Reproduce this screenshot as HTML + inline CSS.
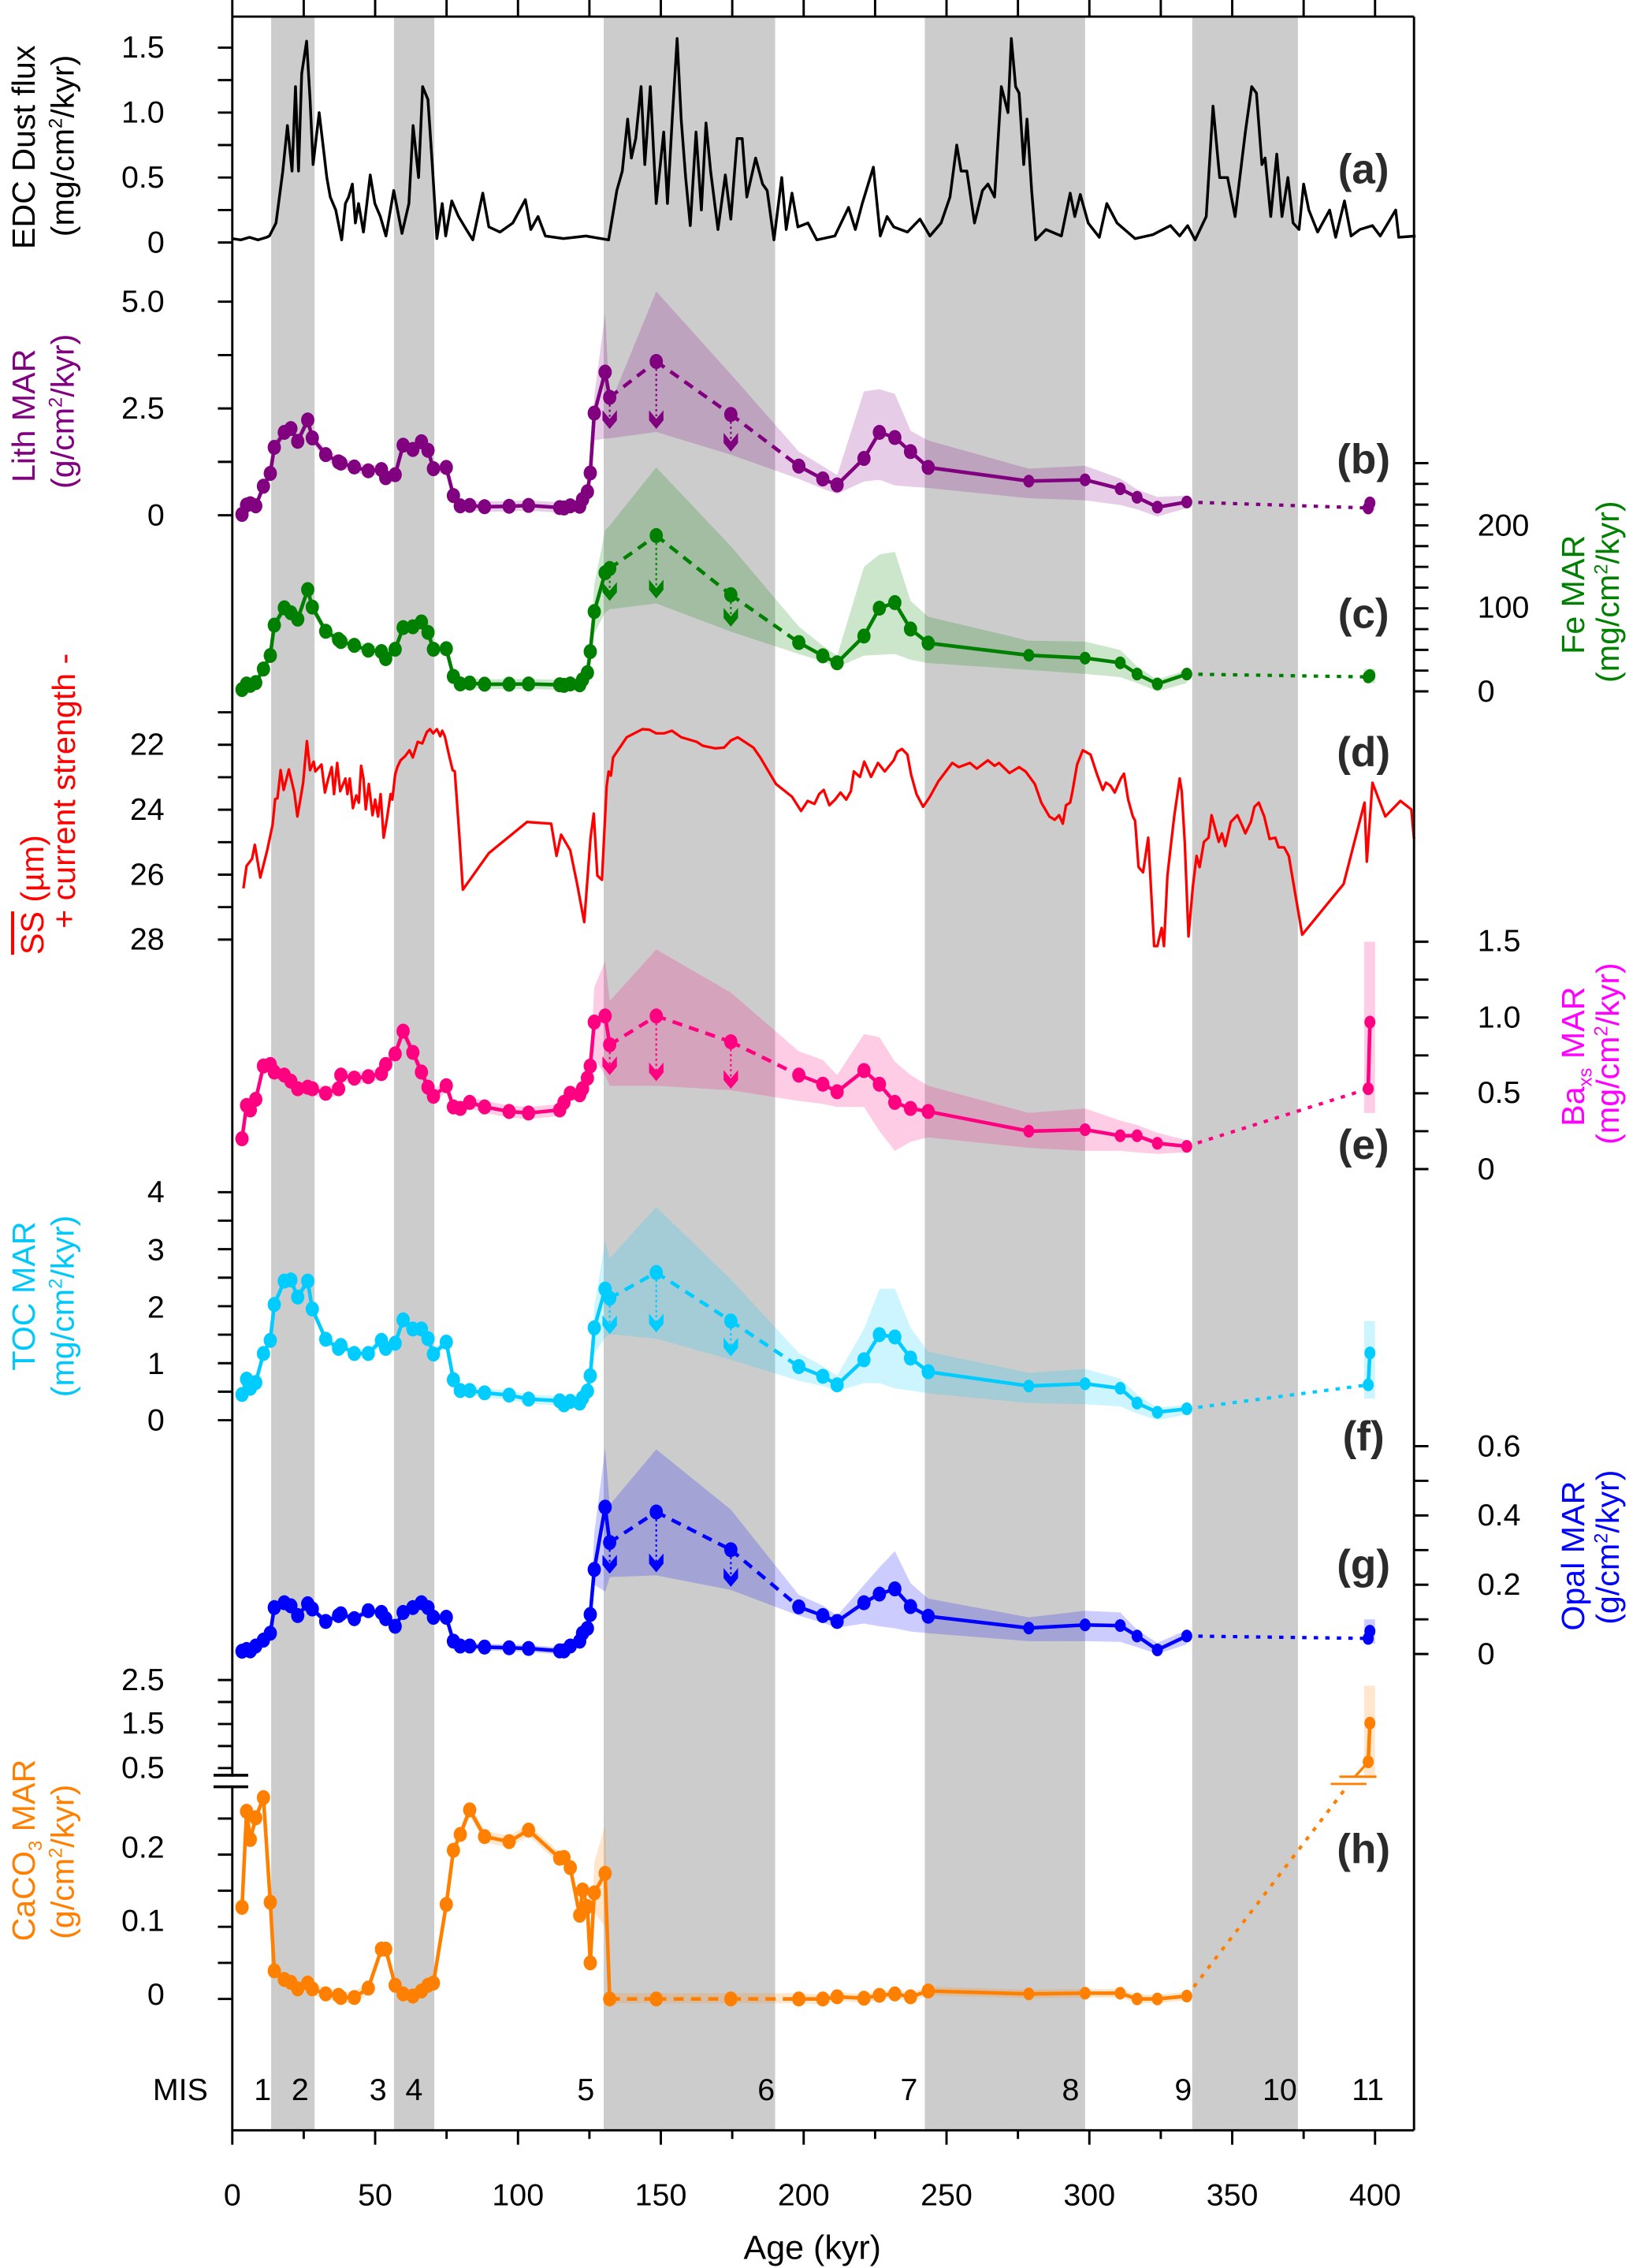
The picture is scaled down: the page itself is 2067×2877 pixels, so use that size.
<!DOCTYPE html>
<html><head><meta charset="utf-8"><title>Paleo records</title>
<style>
html,body{margin:0;padding:0;background:#fff;}
svg{display:block;}
text{font-family:"Liberation Sans",Arial,sans-serif;}
.tk{font-size:21.5px;fill:#000;}
.ttl{font-size:22.5px;}
.pl{font-size:29px;font-weight:bold;fill:#2b2b2b;}
</style></head>
<body>
<svg id="chart" xmlns="http://www.w3.org/2000/svg" width="2067" height="2877" viewBox="0 0 1129 1571.4">
<g id="gBands"></g>
<g id="gEnv"></g>
<g id="gLines"></g>
<g id="gAxes"></g>
<g text-anchor="end" class="tk">
<text class="tk" x="114" y="40">1.5</text>
<text class="tk" x="114" y="85">1.0</text>
<text class="tk" x="114" y="130">0.5</text>
<text class="tk" x="114" y="175">0</text>
<text class="tk" x="114" y="216">5.0</text>
<text class="tk" x="114" y="290">2.5</text>
<text class="tk" x="114" y="364">0</text>
<text class="tk" x="114" y="523">22</text>
<text class="tk" x="114" y="568">24</text>
<text class="tk" x="114" y="613">26</text>
<text class="tk" x="114" y="658">28</text>
<text class="tk" x="114" y="833">4</text>
<text class="tk" x="114" y="873">3</text>
<text class="tk" x="114" y="913">2</text>
<text class="tk" x="114" y="952">1</text>
<text class="tk" x="114" y="991">0</text>
<text class="tk" x="114" y="1171">2.5</text>
<text class="tk" x="114" y="1201">1.5</text>
<text class="tk" x="114" y="1232">0.5</text>
<text class="tk" x="114" y="1287">0.2</text>
<text class="tk" x="114" y="1338">0.1</text>
<text class="tk" x="114" y="1389">0</text>
</g>
<g text-anchor="start">
<text class="tk" x="1024" y="371">200</text>
<text class="tk" x="1024" y="428">100</text>
<text class="tk" x="1024" y="486">0</text>
<text class="tk" x="1024" y="659">1.5</text>
<text class="tk" x="1024" y="712">1.0</text>
<text class="tk" x="1024" y="764">0.5</text>
<text class="tk" x="1024" y="817">0</text>
<text class="tk" x="1024" y="1009">0.6</text>
<text class="tk" x="1024" y="1057">0.4</text>
<text class="tk" x="1024" y="1105">0.2</text>
<text class="tk" x="1024" y="1153">0</text>
</g>
<g text-anchor="middle">
<text class="tk" x="161" y="1528">0</text>
<text class="tk" x="260" y="1528">50</text>
<text class="tk" x="359" y="1528">100</text>
<text class="tk" x="458" y="1528">150</text>
<text class="tk" x="557" y="1528">200</text>
<text class="tk" x="656" y="1528">250</text>
<text class="tk" x="755" y="1528">300</text>
<text class="tk" x="854" y="1528">350</text>
<text class="tk" x="953" y="1528">400</text>
<text x="563" y="1565" style="font-size:23.5px">Age (kyr)</text>
</g>
<g text-anchor="middle" class="tk">
<text class="tk" x="125" y="1455">MIS</text>
<text class="tk" x="182" y="1455">1</text>
<text class="tk" x="208" y="1455">2</text>
<text class="tk" x="262" y="1455">3</text>
<text class="tk" x="287" y="1455">4</text>
<text class="tk" x="406" y="1455">5</text>
<text class="tk" x="531" y="1455">6</text>
<text class="tk" x="630" y="1455">7</text>
<text class="tk" x="742" y="1455">8</text>
<text class="tk" x="820" y="1455">9</text>
<text class="tk" x="887" y="1455">10</text>
<text class="tk" x="948" y="1455">11</text>
</g>
<g text-anchor="middle">
<text class="pl" x="945" y="127">(a)</text>
<text class="pl" x="945" y="328">(b)</text>
<text class="pl" x="945" y="435">(c)</text>
<text class="pl" x="945" y="531">(d)</text>
<text class="pl" x="945" y="803">(e)</text>
<text class="pl" x="945" y="1005">(f)</text>
<text class="pl" x="945" y="1094">(g)</text>
<text class="pl" x="945" y="1291">(h)</text>
</g>
<g text-anchor="middle" class="ttl">
<text class="ttl" transform="translate(24,102) rotate(-90)" fill="#000">EDC Dust flux</text>
<text class="ttl" transform="translate(51,101) rotate(-90)" fill="#000">(mg/cm<tspan dy="-8" font-size="13">2</tspan><tspan dy="8">/kyr)</tspan></text>
<text class="ttl" transform="translate(24,288) rotate(-90)" fill="#800080">Lith MAR</text>
<text class="ttl" transform="translate(51,285) rotate(-90)" fill="#800080">(g/cm<tspan dy="-8" font-size="13">2</tspan><tspan dy="8">/kyr)</tspan></text>
<text class="ttl" transform="translate(30,620) rotate(-90)" fill="#ff0000"><tspan text-decoration="overline">SS</tspan> (µm)</text>
<text class="ttl" transform="translate(52,548) rotate(-90)" fill="#ff0000">+ current strength -</text>
<text class="ttl" transform="translate(24,898) rotate(-90)" fill="#00c8f8">TOC MAR</text>
<text class="ttl" transform="translate(51,905) rotate(-90)" fill="#00c8f8">(mg/cm<tspan dy="-8" font-size="13">2</tspan><tspan dy="8">/kyr)</tspan></text>
<text class="ttl" transform="translate(24,1282) rotate(-90)" fill="#ff8000">CaCO<tspan dy="5" font-size="13">3</tspan><tspan dy="-5"> MAR</tspan></text>
<text class="ttl" transform="translate(51,1290) rotate(-90)" fill="#ff8000">(g/cm<tspan dy="-8" font-size="13">2</tspan><tspan dy="8">/kyr)</tspan></text>
<text class="ttl" transform="translate(1098,412) rotate(-90)" fill="#008000">Fe MAR</text>
<text class="ttl" transform="translate(1122,410) rotate(-90)" fill="#008000">(mg/cm<tspan dy="-8" font-size="13">2</tspan><tspan dy="8">/kyr)</tspan></text>
<text class="ttl" transform="translate(1098,732) rotate(-90)" fill="#ff00ff">Ba<tspan dy="5" font-size="13">xs</tspan><tspan dy="-5"> MAR</tspan></text>
<text class="ttl" transform="translate(1122,730) rotate(-90)" fill="#ff00ff">(mg/cm<tspan dy="-8" font-size="13">2</tspan><tspan dy="8">/kyr)</tspan></text>
<text class="ttl" transform="translate(1098,1078) rotate(-90)" fill="#0000ff">Opal MAR</text>
<text class="ttl" transform="translate(1122,1072) rotate(-90)" fill="#0000ff">(g/cm<tspan dy="-8" font-size="13">2</tspan><tspan dy="8">/kyr)</tspan></text>
</g>
</svg>
<script>
// ---------------- data ----------------
const bandStart = [13.6, 56.6, 130, 242.4, 336];
const bandEnd = [28.8, 70.7, 190, 298.5, 373];

const dustAge = [0,3,6,9,12,13,15.3,17.7,19.3,20.9,22.1,23.2,24.3,26,27.2,28.3,30.4,32,33.1,34.3,36.2,38.3,39.6,40.7,42,43.1,44.2,45.9,48.3,49.9,51.8,53.8,56.5,59.4,61.8,63.3,65.2,66.6,68.5,70,71.6,73.5,74.7,76.8,79.2,81.9,84.2,87.7,89.8,93.7,98.2,102.6,104.5,107,109.6,115.9,123.8,131.7,134.6,136.5,138.4,139.7,141.2,143.1,144.4,146.3,148.4,151,152.3,154,155.7,157.1,158.7,160.3,162.3,164.2,165.8,167.4,170,172.6,174.5,176.7,178.5,180.1,183.2,185.6,187.2,189.6,192.3,193.9,195.9,198,201.5,204.6,210.9,215.7,218.1,220.5,224.4,226.8,229.2,231.5,236.3,240.7,244.2,248.1,251.2,253.6,255.1,257.1,259.8,262.6,264.5,266.8,269.2,271.5,272.7,274.2,275.4,277,278.2,279.8,281.2,284.8,290.2,293.3,294.9,296.8,299.6,303.5,306.1,309.7,316,322.2,328.4,331.6,334.4,337,340.9,343.3,345.6,348.4,351,354.6,356.8,358.5,360.4,361.5,363.5,365.6,367.4,369.5,371.3,373.4,375,376.8,379.9,384.1,386.2,389.3,391.6,394.7,399.1,401.8,407.2,408.3,414.2];
const dustVal = [0.03,0.02,0.04,0.02,0.04,0.05,0.15,0.55,0.9,0.55,1.2,0.55,1.3,1.55,1.1,0.6,1.0,0.7,0.5,0.35,0.25,0.02,0.3,0.35,0.45,0.15,0.3,0.08,0.52,0.3,0.2,0.05,0.4,0.07,0.3,0.9,0.5,1.2,1.1,0.6,0.03,0.3,0.05,0.32,0.2,0.1,0.02,0.38,0.12,0.08,0.15,0.33,0.1,0.2,0.05,0.03,0.05,0.02,0.4,0.55,0.95,0.65,0.8,1.2,0.6,1.2,0.3,0.85,0.3,0.95,1.57,0.95,0.5,0.13,0.85,0.25,0.92,0.55,0.1,0.52,0.18,0.8,0.8,0.35,0.65,0.45,0.4,0.02,0.5,0.1,0.38,0.12,0.15,0.02,0.05,0.27,0.1,0.3,0.58,0.05,0.2,0.12,0.08,0.18,0.05,0.15,0.35,0.75,0.55,0.55,0.15,0.4,0.45,0.35,1.2,1.0,1.57,1.2,1.15,0.6,0.95,0.4,0.02,0.1,0.05,0.38,0.2,0.37,0.15,0.04,0.3,0.15,0.03,0.06,0.13,0.05,0.13,0.02,0.2,1.05,0.5,0.5,0.2,0.85,1.2,1.15,0.6,0.65,0.2,0.68,0.2,0.5,0.15,0.1,0.45,0.25,0.08,0.25,0.04,0.32,0.05,0.1,0.13,0.05,0.25,0.04,0.05];

const ssAge = [3.9,5.0,6.9,7.9,9.8,12.2,14.1,15.0,15.8,16.9,18.0,19.8,21.7,22.8,24.0,24.8,26.1,27.2,28.5,29.1,31.2,32.4,33.5,34.8,35.6,36.7,37.8,39.6,40.3,41.1,42.2,43.4,44.3,45.1,45.9,46.7,47.8,49.1,50.0,51.0,51.9,53.0,54.1,55.4,56.0,57.0,57.8,58.9,60.5,62.0,63.2,64.9,66.5,68.1,69.2,70.3,71.6,72.8,73.5,74.4,75.8,77.1,77.9,79.5,80.7,89.8,103.2,111.6,113.5,115.1,118.3,120.7,123.2,125.4,126.5,127.8,129.4,131.0,131.7,132.5,133.3,138.1,143.6,146.0,148.4,151.1,153.9,157.1,162.6,164.7,169.0,172.1,174.5,176.9,182.4,184.8,190.3,195.9,199.1,201.4,203.8,205.4,207.0,209.0,211.0,212.9,214.9,216.5,217.6,219.7,221.2,223.6,226.0,228.4,231.5,232.8,234.4,236.3,237.6,239.5,241.8,244.2,247.1,252.0,254.3,258.2,260.6,264.5,266.8,268.4,272.0,275.4,277.7,280.9,283.2,286.0,287.9,289.4,290.7,291.8,293.3,294.1,295.7,297.7,300.4,302.7,304.7,305.8,307.4,308.9,311.0,312.1,313.6,315.2,316.0,317.2,318.8,320.6,322.7,323.8,325.3,326.1,327.3,328.4,329.7,331.6,332.3,333.4,334.7,336.2,337.5,338.6,340.1,341.7,342.8,345.3,346.4,347.6,349.5,351.8,353.4,354.6,356.5,357.8,359.3,361.2,363.1,365.1,366.2,368.2,369.8,374.5,389.0,396.3,397.1,399.1,403.6,408.9,412.7,415.0];
const ssVal = [26.42,25.73,25.51,25.08,26.09,25.25,24.47,23.67,23.65,22.78,23.39,22.76,23.47,24.21,23.60,23.17,21.89,22.78,22.52,22.82,22.61,23.47,23.08,22.69,23.52,22.56,23.43,23.04,23.52,23.04,23.95,23.56,23.78,22.65,23.04,23.99,23.21,24.17,23.69,24.21,23.52,24.86,24.30,23.52,23.69,22.91,22.69,22.48,22.35,22.17,22.39,21.91,21.96,21.61,21.52,21.65,21.52,21.74,21.57,21.74,22.30,22.78,22.82,24.82,26.46,25.34,24.38,24.43,25.42,24.77,25.25,26.29,27.46,24.86,24.12,26.03,26.16,23.30,22.82,22.95,22.39,21.77,21.52,21.54,21.65,21.65,21.57,21.77,21.91,22.03,22.11,22.09,21.87,21.77,22.09,22.39,23.21,23.60,24.04,23.73,23.82,23.52,23.39,23.86,23.69,23.47,23.69,23.43,22.82,22.99,22.52,22.99,22.56,22.82,22.48,22.22,22.13,22.30,22.91,23.52,23.91,23.60,23.13,22.56,22.69,22.56,22.74,22.48,22.65,22.56,22.87,22.69,22.82,23.21,23.78,24.21,24.31,24.17,24.43,23.86,23.78,23.43,22.61,22.17,22.30,22.91,23.39,23.17,23.26,23.47,23.04,22.89,23.69,24.21,24.34,25.77,25.93,24.86,28.2,28.2,27.64,28.2,26.03,25.21,24.21,23.04,23.43,24.99,27.90,26.38,25.42,25.77,24.99,24.86,24.17,24.99,24.73,25.12,24.38,24.17,24.47,24.73,24.38,23.91,23.78,24.21,24.90,24.86,25.16,25.16,25.42,27.85,26.29,23.78,25.60,23.17,24.21,23.73,23.99,24.90];

const marAge = [3.4,5.0,6.3,8.2,10.9,13.3,14.7,18.2,20.5,22.9,26.4,28.0,32.7,37.2,38.0,42.7,47.6,52.2,53.7,57.0,59.8,63.2,66.2,68.5,70.4,74.9,77.4,79.8,83.1,88.3,96.9,103.7,114.6,116.1,118.3,121.6,122.6,124.3,125.3,126.7,130.5,132.1,148.4,174.5,198.3,206.7,211.7,221.1,226.5,231.9,237.4,243.6,278.8,298.5,310.8,316.7,323.8,334.1,397.6,398.2];
const lithVal = [0.02,0.24,0.27,0.22,0.68,0.98,1.59,1.94,2.03,1.73,2.23,1.81,1.42,1.25,1.22,1.13,1.04,1.07,0.88,0.95,1.64,1.54,1.72,1.52,1.09,1.12,0.46,0.22,0.23,0.20,0.21,0.23,0.18,0.17,0.22,0.21,0.37,0.55,0.99,2.39,3.35,2.76,3.60,2.36,1.15,0.85,0.71,1.33,1.94,1.82,1.49,1.12,0.80,0.83,0.62,0.42,0.19,0.31,0.17,0.29];
const feVal = [2.2,8.9,7.2,10.5,26.9,43.2,79.8,100.6,94.7,87.0,122.6,101.5,72.4,62.5,60,55.4,49.6,47.9,39.4,50.7,76.8,77.8,83.6,71.0,50.7,51.4,18.0,8.9,10.0,8.6,8.6,8.9,7.9,7.2,8.9,7.9,14.0,22.5,47.9,96.1,142.9,148.0,187.7,116.4,58.8,42.8,34.4,66.6,100.2,106.9,75.1,58.1,43.5,40.1,34.4,20.8,8.9,20.8,17.4,19];
const baVal = [0.20,0.42,0.39,0.46,0.68,0.69,0.64,0.62,0.58,0.53,0.54,0.53,0.50,0.53,0.62,0.60,0.61,0.63,0.69,0.76,0.91,0.77,0.64,0.54,0.48,0.55,0.41,0.40,0.44,0.41,0.38,0.37,0.39,0.44,0.50,0.49,0.53,0.60,0.68,0.97,1.01,0.82,1.01,0.84,0.62,0.56,0.51,0.65,0.56,0.44,0.40,0.38,0.25,0.26,0.22,0.22,0.17,0.15,0.53,0.97];
const tocVal = [0.45,0.72,0.56,0.66,1.17,1.40,2.03,2.44,2.46,2.16,2.44,1.95,1.42,1.26,1.31,1.17,1.17,1.40,1.26,1.35,1.76,1.60,1.60,1.43,1.16,1.37,0.71,0.52,0.52,0.48,0.44,0.37,0.34,0.27,0.33,0.30,0.39,0.51,0.78,1.62,2.30,2.14,2.59,1.74,0.94,0.77,0.62,1.06,1.50,1.46,1.09,0.85,0.60,0.64,0.56,0.30,0.14,0.20,0.62,1.18];
const opalVal = [0.008,0.013,0.009,0.023,0.040,0.060,0.134,0.148,0.139,0.111,0.145,0.130,0.094,0.111,0.116,0.102,0.125,0.120,0.102,0.080,0.120,0.134,0.148,0.134,0.106,0.106,0.037,0.023,0.023,0.020,0.018,0.016,0.009,0.009,0.023,0.037,0.060,0.074,0.114,0.244,0.424,0.322,0.410,0.301,0.136,0.111,0.094,0.148,0.173,0.188,0.137,0.109,0.075,0.084,0.082,0.052,0.012,0.052,0.045,0.066];
const caVal = [0.127,0.260,0.221,0.251,0.279,0.134,0.039,0.027,0.023,0.014,0.022,0.014,0.007,0.005,0.002,0.002,0.015,0.069,0.069,0.019,0.007,0.004,0.011,0.019,0.022,0.131,0.206,0.228,0.262,0.225,0.218,0.234,0.195,0.196,0.182,0.116,0.151,0.128,0.050,0.147,0.174,0.0,0.0,0.0,0.0,0.0,0.003,0.001,0.005,0.007,0.003,0.011,0.007,0.008,0.008,0.0,0.0,0.004,0.64,1.52];

const lithHi = [2.8,4.72,2.58,5.24,3.3,1.49,1.15,0.94,2.9,2.95,2.84,1.98,1.75,1.09,1.16,0.86,0.6,0.43,0.46];
const lithLo = [1.75,1.80,1.80,1.95,1.42,0.85,0.62,0.50,0.79,0.83,0.70,0.67,0.64,0.40,0.35,0.24,0.14,-0.03,0.17];
const feHi = [129,194,200,270,175,78,55,43,150,165,168,109,90,61,60,50,30,14,26];
const feLo = [70,95,99,106,72,45,36,29,43,44,45,38,34,26,21,17,10,0,10];
const baHi = [1.20,1.37,1.11,1.45,1.165,0.777,0.72,0.62,0.89,0.87,0.71,0.62,0.55,0.37,0.40,0.32,0.29,0.24,0.19];
const baLo = [0.73,0.62,0.55,0.55,0.52,0.45,0.43,0.41,0.41,0.25,0.12,0.18,0.21,0.14,0.12,0.12,0.11,0.10,0.11];
const tocHi = [2.0,3.15,2.84,3.74,2.47,1.18,0.95,0.78,1.6,2.30,2.31,1.62,1.2,0.83,0.90,0.73,0.45,0.22,0.27];
const tocLo = [1.17,1.45,1.51,1.43,1.06,0.69,0.60,0.51,0.65,0.65,0.56,0.52,0.47,0.30,0.28,0.24,0.12,0.0,0.10];
const opalHi = [0.35,0.594,0.431,0.591,0.417,0.171,0.14,0.111,0.199,0.25,0.297,0.204,0.16,0.106,0.125,0.120,0.07,0.032,0.069];
const opalLo = [0.2,0.18,0.222,0.227,0.185,0.111,0.09,0.076,0.088,0.08,0.074,0.065,0.06,0.037,0.037,0.035,0.02,0.0,0.028];
const caHi = [0.19,0.24,0.008,0.008,0.008,0.008,0.006,0.009,0.007,0.011,0.013,0.009,0.017,0.013,0.014,0.014,0.006,0.006,0.010];
const caLo = [0.12,0.10,-0.006,-0.006,-0.006,-0.006,-0.008,-0.003,-0.005,-0.001,0.001,-0.003,0.005,0.001,0.002,0.002,-0.006,-0.006,-0.002];
const baseErr = [0.12, 6, 0.04, 0.08, 0.01, 0.008];
const mis11Lo = [0.12, 10, 0.37, 0.38, 0.03, 0.3];
const mis11Hi = [0.36, 27, 1.5, 1.74, 0.10, 2.37];
const arrowAge = [132.1, 148.4, 174.5];
const lithArrow = [2.02, 2.02, 1.49];
const feArrow = [109, 112, 78];
const baArrow = [0.62, 0.58, 0.53];
const tocArrow = [1.51, 1.54, 1.12];
const opalArrow = [0.232, 0.236, 0.194];

// ---------------- drawing ----------------
const NS = 'http://www.w3.org/2000/svg';
function mk(tag, attrs, parent) {
  const e = document.createElementNS(NS, tag);
  for (const k in attrs) e.setAttribute(k, attrs[k]);
  parent.appendChild(e);
  return e;
}
const gBands = document.getElementById('gBands');
const gEnv = document.getElementById('gEnv');
const gLines = document.getElementById('gLines');
const gAxes = document.getElementById('gAxes');
const X = a => 161 + a * 1.98;
const TOP = 11.5, BOT = 1476;
const yDust = v => 168 - v * 90;
const yLith = v => 357 - v * 29.6;
const yFe = v => 479 - v * 0.575;
const ySS = v => 516 + (v - 22) * 22.5;
const yBa = v => 810 - v * 105;
const yToc = v => 984 - v * 39.5;
const yOpal = v => 1146 - v * 240;
const yCaLow = v => 1385 - v * 500;
const yCaUp = v => 1225 - (v - 0.5) * 30.5;

for (let i = 0; i < bandStart.length; i++) {
  const r = mk('rect', {x: X(bandStart[i]), y: TOP, width: X(bandEnd[i]) - X(bandStart[i]), height: BOT - TOP, fill: '#cccccc'}, gBands);
  
  
}

{
  let d = '';
  for (let i = 0; i < dustAge.length; i++) d += (i ? 'L' : 'M') + X(dustAge[i]).toFixed(1) + ' ' + yDust(dustVal[i]).toFixed(1);
  const p = mk('path', {d: d, fill: 'none', stroke: '#000', 'stroke-width': 1.9, 'stroke-linejoin': 'round'}, gLines);
  
  
}
{
  let d = '';
  for (let i = 0; i < ssAge.length; i++) {
    const a = Math.min(ssAge[i], 415.5);
    d += (i ? 'L' : 'M') + Math.min(X(a), 980).toFixed(1) + ' ' + ySS(ssVal[i]).toFixed(1);
  }
  const p = mk('path', {d: d, fill: 'none', stroke: '#ff0000', 'stroke-width': 1.8, 'stroke-linejoin': 'round'}, gLines);
  
  
}

function drawSeries(name, vals, hi, lo, Y, color, k, arrows, isCa) {
  const Yv = (v, i) => (isCa && i >= 58) ? yCaUp(v) : Y(v);
  const up = [], dn = [];
  for (let i = 0; i <= 57; i++) {
    let h, l;
    if (i >= 39) { h = hi[i - 39]; l = lo[i - 39]; }
    else { h = vals[i] + baseErr[k]; l = vals[i] - baseErr[k]; }
    up.push(X(marAge[i]).toFixed(1) + ',' + Y(h).toFixed(1));
    dn.unshift(X(marAge[i]).toFixed(1) + ',' + Y(l).toFixed(1));
  }
  const env = mk('polygon', {points: up.concat(dn).join(' '), fill: color, 'fill-opacity': 0.2}, gEnv);
  
  
  const yTopB = isCa ? yCaUp(mis11Hi[k]) : Y(mis11Hi[k]);
  const yBotB = isCa ? 1232 : Y(mis11Lo[k]);
  const box = mk('rect', {x: X(396.2), y: yTopB, width: X(400) - X(396.2), height: yBotB - yTopB, fill: color, 'fill-opacity': 0.2}, gEnv);
  
  
  for (let i = 0; i < 59; i++) {
    let x1 = X(marAge[i]), y1 = Yv(vals[i], i), x2 = X(marAge[i + 1]), y2 = Yv(vals[i + 1], i + 1);
    let dash = null, w = 2.5;
    if (i >= 41 && i <= 43) dash = '7 5';
    if (i === 57) { dash = '3 5'; w = 2.3; }
    if (isCa && i === 57) { x2 = X(390.5); y2 = 1237; }
    const ln = mk('line', {x1: x1, y1: y1, x2: x2, y2: y2, stroke: color, 'stroke-width': w}, gLines);
    if (dash) ln.setAttribute('stroke-dasharray', dash);
    
    
  }
  if (isCa) {
    const b1 = mk('line', {x1: X(384.5), y1: 1236, x2: X(397), y2: 1236, stroke: color, 'stroke-width': 1.6}, gLines);
    
    
    const b2 = mk('line', {x1: X(387.5), y1: 1231, x2: X(400.5), y2: 1231, stroke: color, 'stroke-width': 1.6}, gLines);
    
    
    const b3 = mk('line', {x1: X(393), y1: 1231, x2: X(marAge[58]), y2: yCaUp(vals[58]), stroke: color, 'stroke-width': 1.8}, gLines);
    
    
  }
  if (arrows) {
    for (let j = 0; j < arrowAge.length; j++) {
      const idx = marAge.indexOf(arrowAge[j]);
      const ax = X(arrowAge[j]), ay0 = Y(vals[idx]), ay = Y(arrows[j]);
      const dl = mk('line', {x1: ax, y1: ay0 + 5, x2: ax, y2: ay - 4, stroke: color, 'stroke-width': 1.2, 'stroke-dasharray': '1.5 2'}, gLines);
      
      
      const ah = mk('path', {d: `M${ax - 5} ${ay - 13} L${ax} ${ay - 7} L${ax + 5} ${ay - 13} L${ax + 5} ${ay - 6} L${ax} ${ay} L${ax - 5} ${ay - 6} Z`, fill: color}, gLines);
      
      
    }
  }
  for (let i = 0; i < 60; i++) {
    const r = (i >= 52) ? 3.8 : 4.6;
    const c = mk('ellipse', {cx: X(marAge[i]), cy: Yv(vals[i], i), rx: r, ry: r + 0.6, fill: color}, gLines);
    
    
  }
}
drawSeries('lith-mar', lithVal, lithHi, lithLo, yLith, '#800080', 0, lithArrow, false);
drawSeries('fe-mar', feVal, feHi, feLo, yFe, '#008000', 1, feArrow, false);
drawSeries('ba-xs-mar', baVal, baHi, baLo, yBa, '#ff0080', 2, baArrow, false);
drawSeries('toc-mar', tocVal, tocHi, tocLo, yToc, '#00ccff', 3, tocArrow, false);
drawSeries('opal-mar', opalVal, opalHi, opalLo, yOpal, '#0000ff', 4, opalArrow, false);
drawSeries('caco3-mar', caVal, caHi, caLo, yCaLow, '#ff8000', 5, null, true);

function axLine(x1, y1, x2, y2, nm, w) {
  const l = mk('line', {x1: x1, y1: y1, x2: x2, y2: y2, stroke: '#000', 'stroke-width': w || 1.6}, gAxes);
  
  
}
axLine(161, TOP, 980, TOP, 'top-axis');
axLine(161, BOT, 980, BOT, 'x-axis');
axLine(980, TOP, 980, BOT, 'right-axis');
axLine(161, TOP, 161, 1231, 'left-axis-upper');
axLine(161, 1238, 161, BOT, 'left-axis-lower');
axLine(148, 1230, 172, 1230, 'left-axis-break-mark', 2);
axLine(148, 1238, 172, 1238, 'left-axis-break-mark', 2);
for (let a = 0; a <= 400; a += 25) {
  axLine(X(a), 0, X(a), TOP, 'top-tick');
  axLine(X(a), BOT, X(a), BOT + (a % 50 === 0 ? 10 : 6), 'x-tick');
}
function leftTicks(Y, from, to, step, nm) {
  for (let v = from; v <= to + 1e-9; v += step) axLine(151, Y(v), 161, Y(v), nm);
}
function rightTicks(Y, from, to, step, nm) {
  for (let v = from; v <= to + 1e-9; v += step) axLine(980, Y(v), 990, Y(v), nm);
}
leftTicks(yDust, 0, 1.5, 0.25, 'dust-y-tick');
leftTicks(yLith, 0, 5, 1.25, 'lith-y-tick');
leftTicks(ySS, 21, 28, 1, 'ss-y-tick');
leftTicks(yToc, 0, 4, 0.5, 'toc-y-tick');
leftTicks(yCaLow, 0, 0.25, 0.05, 'caco3-y-tick');
leftTicks(yCaUp, 0.5, 2.5, 0.5, 'caco3-y-tick-upper');
rightTicks(yFe, 0, 275, 25, 'fe-y-tick');
rightTicks(yBa, 0, 1.5, 0.25, 'ba-y-tick');
rightTicks(yOpal, 0, 0.6, 0.1, 'opal-y-tick');
</script>
</body></html>
